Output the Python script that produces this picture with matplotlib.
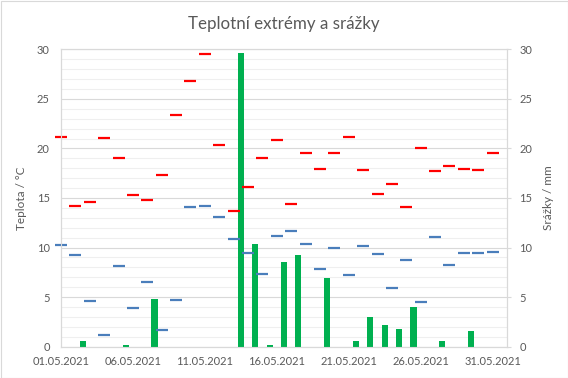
import numpy as np
import pandas as pd
import matplotlib
matplotlib.use('Agg')
import matplotlib.pyplot as plt
import matplotlib.dates as mdates
from matplotlib.patches import Rectangle

plt.rcParams['font.family'] = ['Lato', 'DejaVu Sans']

# --- data (May 2021) ---
dates = pd.date_range('2021-05-01', '2021-05-31', freq='D')
t_max = [21.2, 14.2, 14.6, 21.1, 19.0, 15.3, 14.8, 17.3, 23.4, 26.8, 29.5,
         20.3, 13.7, 16.1, 19.0, 20.9, 14.4, 19.5, 17.9, 19.5, 21.2, 17.8,
         15.4, 16.4, 14.1, 20.0, 17.7, 18.2, 17.9, 17.8, 19.5]
t_min = [10.3, 9.2, 4.6, 1.2, 8.1, 3.9, 6.5, 1.7, 4.7, 14.1, 14.2, 13.1,
         10.9, 9.5, 7.3, 11.2, 11.7, 10.4, 7.8, 10.0, 7.2, 10.2, 9.4, 5.9,
         8.7, 4.5, 11.1, 8.2, 9.5, 9.5, 9.6]
precip = [0, 0.6, 0, 0, 0.2, 0, 4.8, 0, 0, 0, 0, 0, 29.6, 10.4, 0.2, 8.5,
          9.2, 0, 6.9, 0, 0.6, 3.0, 2.2, 1.8, 4.0, 0, 0.6, 0, 1.6, 0, 0]

TXT = '#595959'
GRID_MAJ = '#D9D9D9'
GRID_MIN = '#EFEFEF'

fig = plt.figure(figsize=(5.68, 3.78), dpi=100)
ax = fig.add_axes([61 / 568, 1 - 346.7 / 378, 446 / 568, 297.4 / 378])
ax2 = ax.twinx()

# bars + grid live on the (lower) right axis, dashes on the left axis above
ax.set_zorder(ax2.get_zorder() + 1)
ax.patch.set_visible(False)

ax2.bar(dates + pd.Timedelta(hours=12), precip, width=0.42,
        color='#00B050', zorder=3)
ax.plot(dates, t_max, linestyle='none', marker='_', markersize=8.6,
        markeredgewidth=1.6, color='#FF0000', clip_on=False)
ax.plot(dates, t_min, linestyle='none', marker='_', markersize=8.6,
        markeredgewidth=1.6, color='#4A7EBB', clip_on=False)

for a in (ax, ax2):
    a.set_ylim(0, 30)
    a.set_yticks(np.arange(0, 31, 5))
    a.set_yticks(np.arange(0, 31, 1), minor=True)
    for s in a.spines.values():
        s.set_color(GRID_MAJ)
        s.set_linewidth(0.8)

ax.set_xlim(dates[0], dates[0] + pd.Timedelta(days=31))
ax.set_xticks(dates[::5])
ax.xaxis.set_major_formatter(mdates.DateFormatter('%d.%m.%Y'))
ax.xaxis.set_minor_locator(mdates.DayLocator())

ax2.set_axisbelow(True)
ax2.grid(which='major', color=GRID_MAJ, linewidth=0.8)
ax2.grid(which='minor', color=GRID_MIN, linewidth=0.8)
ax.grid(False)

ax.tick_params(axis='both', which='both', length=0, labelsize=8, labelcolor=TXT)
ax.tick_params(axis='y', pad=8)
ax.tick_params(axis='x', pad=7)
ax2.tick_params(axis='y', which='major', length=3, color=GRID_MAJ,
                labelsize=8, labelcolor=TXT, pad=6)
ax2.tick_params(axis='y', which='minor', length=0)
ax2.tick_params(axis='x', which='both', length=0)

ax.set_ylabel('Teplota / °C', fontsize=8.5, color=TXT)
ax.yaxis.set_label_coords(-0.076, 0.5)
ax2.set_ylabel('Srážky / mm', fontsize=8.5, color=TXT, rotation=90)
ax2.yaxis.set_label_coords(1.081, 0.5)

fig.text(0.5, 1 - 23.5 / 378, 'Teplotní extrémy a srážky', ha='center',
         va='center', fontsize=12.2, color=TXT)

# chart border
fig.patches.append(Rectangle((0.5 / 568, 0.5 / 378), 567 / 568, 377 / 378,
                             transform=fig.transFigure, fill=False,
                             edgecolor=GRID_MAJ, linewidth=0.8))

fig.savefig('out.png', dpi=100)
